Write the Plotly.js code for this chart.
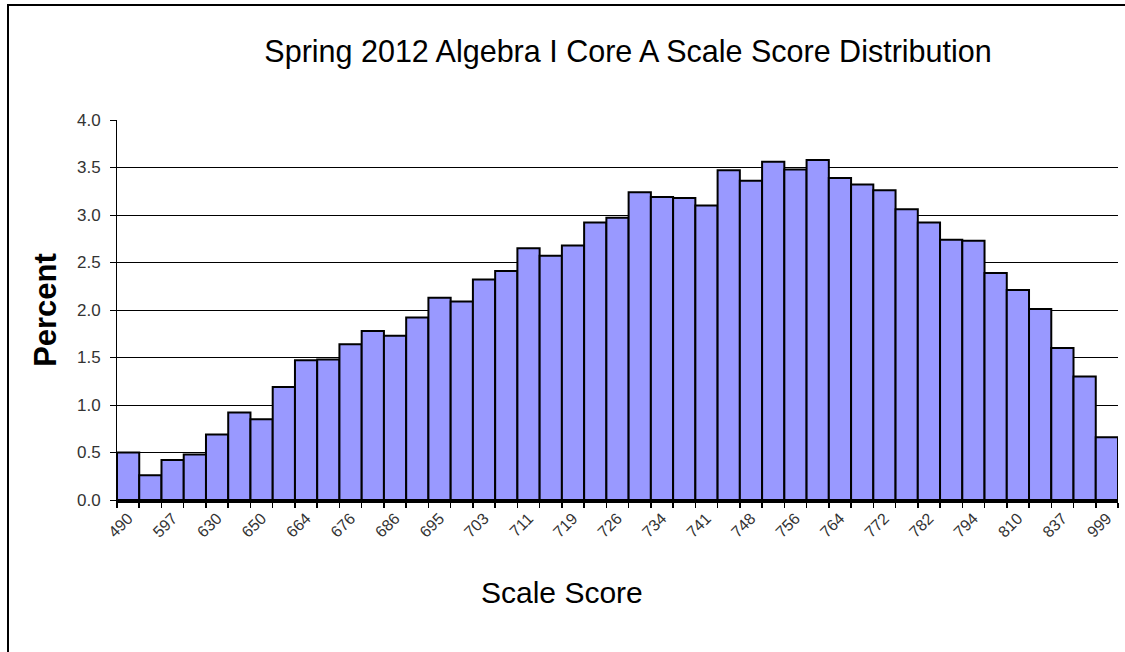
<!DOCTYPE html>
<html>
<head>
<meta charset="utf-8">
<script src="https://cdn.plot.ly/plotly-3.0.1.min.js"></script>
<style>
  html, body { margin: 0; padding: 0; background: #fff; overflow: hidden; }
  #wrap { position: relative; width: 1125px; height: 652px; }
  #frame { position: absolute; left: 7px; top: 4px; width: 1200px; height: 800px;
           border-left: 2px solid #000; border-top: 2px solid #000; pointer-events: none; }
  #chart { position: absolute; left: 0; top: 0; width: 1125px; height: 652px; }
</style>
</head>
<body>
<div id="wrap">
  <div id="chart"></div>
  <div id="frame"></div>
</div>
<script>
// Tick labels shown under every other bar (bars 1, 3, 5, ... 45)
const scoreLabels = ["490","597","630","650","664","676","686","695","703","711","719","726",
                     "734","741","748","756","764","772","782","794","810","837","999"];
// Percent of students in each of the 45 scale-score bins
const percent = [0.50,0.26,0.42,0.48,0.69,0.92,0.85,1.19,1.47,1.48,
                 1.64,1.78,1.73,1.92,2.13,2.09,2.32,2.41,2.65,2.57,
                 2.68,2.92,2.97,3.24,3.19,3.18,3.10,3.47,3.36,3.56,
                 3.48,3.58,3.39,3.32,3.26,3.06,2.92,2.74,2.73,2.39,
                 2.21,2.01,1.60,1.30,0.66];
const yTicks = [0,0.5,1,1.5,2,2.5,3,3.5,4];

const n = percent.length;
const idx = percent.map((_, i) => i);
const labelPos = scoreLabels.map((_, i) => i * 2);
const boundaries = [];
for (let i = 0; i <= n; i++) boundaries.push(i - 0.5);

const font = "Liberation Sans, Arial, sans-serif";

const traces = [
  {
    type: "bar", x: idx, y: percent, width: 1,
    marker: { color: "#9999FF", line: { color: "#000", width: 2 } },
    hoverinfo: "y"
  },
  {
    type: "scatter", x: [0], y: [0], xaxis: "x2", mode: "markers",
    marker: { opacity: 0 }, hoverinfo: "skip", showlegend: false
  }
];

const layout = {
  width: 1125, height: 652,
  margin: { l: 117, r: 7, t: 120, b: 152 },
  paper_bgcolor: "#fff", plot_bgcolor: "#fff",
  showlegend: false,
  bargap: 0,
  title: {
    text: "Spring 2012 Algebra I Core A Scale Score Distribution",
    font: { family: font, size: 30.5, color: "#000" },
    xref: "paper", x: (628 - 117) / (1118 - 117), xanchor: "center",
    yref: "container", y: 1 - 51 / 652, yanchor: "middle"
  },
  xaxis: {
    range: [-0.5, n - 0.5],
    tickmode: "array", tickvals: labelPos, ticktext: scoreLabels,
    tickangle: -45, ticks: "", showgrid: false, zeroline: false,
    showline: false, ticklabelstandoff: 5,
    tickfont: { family: font, size: 16, color: "#333" }
  },
  xaxis2: {
    overlaying: "x", anchor: "y", side: "bottom",
    range: [-0.5, n - 0.5],
    tickmode: "array", tickvals: boundaries,
    ticks: "outside", ticklen: 5, tickwidth: 1.5, tickcolor: "#000",
    showticklabels: false, showgrid: false, zeroline: false,
    showline: true, linecolor: "#000", linewidth: 2.5
  },
  yaxis: {
    range: [0, 4],
    tickmode: "array", tickvals: yTicks,
    tickformat: ".1f",
    ticks: "outside", ticklen: 6, tickcolor: "#000",
    ticklabelstandoff: 6,
    showgrid: true, gridcolor: "#000", gridwidth: 1,
    zeroline: false,
    showline: true, linecolor: "#000", linewidth: 1,
    tickfont: { family: font, size: 17, color: "#333" },
    title: {
      text: "<b>Percent</b>", standoff: 11,
      font: { family: font, size: 31, color: "#000" }
    }
  },
  annotations: [
    {
      text: "Scale Score", showarrow: false,
      xref: "paper", yref: "paper",
      x: (562 - 117) / (1118 - 117), y: -(592 - 500) / 380,
      xanchor: "center", yanchor: "middle",
      font: { family: font, size: 30, color: "#000" }
    }
  ]
};

Plotly.newPlot("chart", traces, layout, { displayModeBar: false, staticPlot: true });
</script>
</body>
</html>
